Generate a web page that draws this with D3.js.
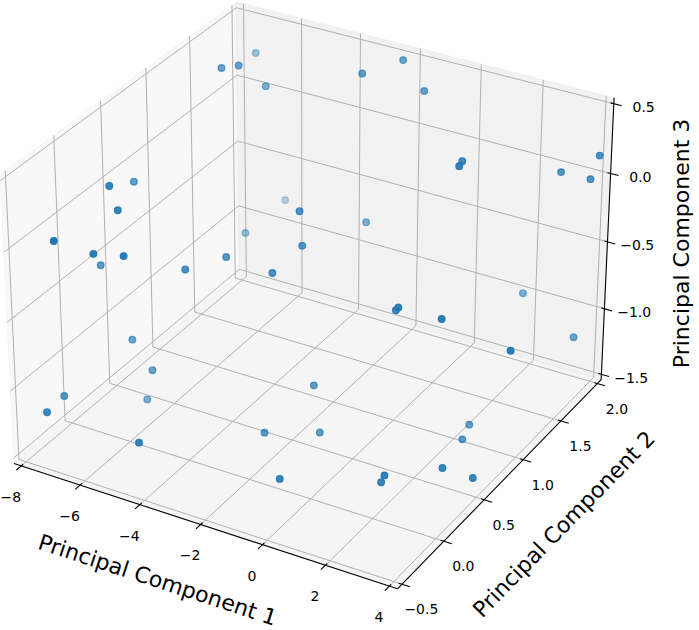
<!DOCTYPE html>
<html><head><meta charset="utf-8">
<script src="https://cdn.jsdelivr.net/npm/d3@7"></script>
<style>
body{margin:0;background:#fff}
svg{display:block}
text{font-family:"DejaVu Sans",sans-serif;fill:#000}
</style>
</head><body>
<svg id="chart" width="699" height="630"></svg>
<script>
// ---- data (PC1, PC2, PC3 per sample) ----
const pc1 = [-6.61,-6.26,-7.41,-6.04,-2.91,-2.30,-1.41,-7.25,-7.83,-6.86,0.95,1.13,-6.07,-2.97,4.00,2.98,3.83,-7.63,-6.90,-6.14,-7.95,-5.38,-4.74,-7.03,-6.30,-7.98,-7.47,-6.60,-6.15,-2.94,-3.20,-2.50,0.67,0.46,2.03,-1.86,2.01,4.00,3.93,-4.70,-2.67,-1.33,-1.09,1.65,1.44,2.88,2.40,2.17,3.58];
const pc2 = [1.31,1.39,1.99,1.63,1.67,1.95,1.88,0.25,0.70,0.21,1.45,1.34,1.87,0.94,2.00,1.92,1.96,-0.23,-0.05,0.03,0.35,0.45,0.70,0.38,0.36,-0.08,-0.42,0.39,1.41,0.96,0.70,1.58,0.79,0.84,0.80,0.71,1.87,1.74,0.92,-0.32,0.41,0.59,0.03,0.27,0.31,0.51,0.95,1.13,0.62];
const pc3 = [0.49,0.49,0.24,0.24,0.49,0.49,0.35,0.12,-0.11,-0.01,0.19,0.22,-0.73,-0.15,0.14,0.00,-0.02,-0.05,-0.19,-0.20,-0.55,-0.47,-0.47,-1.06,-1.23,-1.29,-1.18,-1.49,-0.75,-0.41,-0.49,-0.53,-0.54,-0.60,-0.54,-1.24,-0.93,-1.06,-0.71,-1.27,-1.48,-1.49,-1.49,-1.41,-1.50,-1.41,-1.49,-1.50,-1.50];

const xTicks = [-8,-6,-4,-2,0,2,4];
const yTicks = [-0.5,0.0,0.5,1.0,1.5,2.0];
const zTicks = [-1.5,-1.0,-0.5,0.0,0.5];
const xLim = [-8,4], yLim = [-0.5,2.0], zLim = [-1.5,0.5];
const axisTitles = ["Principal Component 1","Principal Component 2","Principal Component 3"];

// ---- 3D view (matplotlib-like: elev 30, azim -60, box aspect 4:4:3) ----
const svg = d3.select("#chart");
const elev = 30*Math.PI/180, azim = -60*Math.PI/180, dist = 10;
const asp = [4,4,3];
const an = Math.hypot(...asp);
const A = asp.map(a => a*1.8294640721620434/an);
const sx3 = d3.scaleLinear().domain(xLim).range([-A[0]/2, A[0]/2]);
const sy3 = d3.scaleLinear().domain(yLim).range([-A[1]/2, A[1]/2]);
const sz3 = d3.scaleLinear().domain(zLim).range([-A[2]/2, A[2]/2]);
const w = [Math.cos(elev)*Math.cos(azim), Math.cos(elev)*Math.sin(azim), Math.sin(elev)];
let u = [-w[1], w[0], 0]; const un = Math.hypot(...u); u = u.map(c=>c/un);
const v = [w[1]*u[2]-w[2]*u[1], w[2]*u[0]-w[0]*u[2], w[0]*u[1]-w[1]*u[0]];
const dot = (a,b) => a[0]*b[0]+a[1]*b[1]+a[2]*b[2];
const cx = 313, cy = 281.3, half = 369;
const px = d3.scaleLinear().domain([-0.1,0.1]).range([cx-half, cx+half]);
const py = d3.scaleLinear().domain([-0.1,0.1]).range([cy+half, cy-half]);
function proj(x,y,z){
  const p = [sx3(x), sy3(y), sz3(z)];
  const d = dot(w,p), k = dist - d;
  return {x: px(dot(u,p)/k), y: py(dot(v,p)/k), d};
}
const padOf = l => (l[1]-l[0])/48;
const xs0 = xLim[0]-padOf(xLim), xs1 = xLim[1]+padOf(xLim);
const ys0 = yLim[0]-padOf(yLim), ys1 = yLim[1]+padOf(yLim);
const zs0 = zLim[0]-padOf(zLim), zs1 = zLim[1]+padOf(zLim);
const line = d3.line().x(p=>p.x).y(p=>p.y);
const P = pts => pts.map(q => proj(...q));

// ---- panes ----
const panes = [
  {pts:[[xs0,ys0,zs0],[xs0,ys1,zs0],[xs0,ys1,zs1],[xs0,ys0,zs1]], c:"rgba(242,242,242,0.5)"},
  {pts:[[xs0,ys1,zs0],[xs1,ys1,zs0],[xs1,ys1,zs1],[xs0,ys1,zs1]], c:"rgba(230,230,230,0.5)"},
  {pts:[[xs0,ys0,zs0],[xs1,ys0,zs0],[xs1,ys1,zs0],[xs0,ys1,zs0]], c:"rgba(236,236,236,0.5)"}
];
svg.append("g").selectAll("path").data(panes).join("path")
  .attr("d", p => line(P(p.pts)) + "Z")
  .attr("fill", p => p.c).attr("stroke", p => p.c).attr("stroke-width", 1);

// ---- grid ----
const grid = svg.append("g").attr("fill","none").attr("stroke","#b0b0b0").attr("stroke-width",1);
xTicks.forEach(t => grid.append("path").attr("d", line(P([[t,ys0,zs0],[t,ys1,zs0],[t,ys1,zs1]]))));
yTicks.forEach(t => grid.append("path").attr("d", line(P([[xs1,t,zs0],[xs0,t,zs0],[xs0,t,zs1]]))));
zTicks.forEach(t => grid.append("path").attr("d", line(P([[xs0,ys0,t],[xs0,ys1,t],[xs1,ys1,t]]))));

// ---- axis lines ----
const ax = svg.append("g").attr("fill","none").attr("stroke","#000").attr("stroke-width",1.1);
const xAxisPts = P([[xs0,ys0,zs0],[xs1,ys0,zs0]]);
const yAxisPts = P([[xs1,ys0,zs0],[xs1,ys1,zs0]]);
const zAxisPts = P([[xs1,ys1,zs0],[xs1,ys1,zs1]]);
[xAxisPts,yAxisPts,zAxisPts].forEach(a => ax.append("path").attr("d", line(a)));

// ---- ticks & tick labels ----
const dX = (xLim[1]-xLim[0])/12, dY = (yLim[1]-yLim[0])/12;
const out = 0.25, inn = 0.1;
const fx = d3.format("d"), f1 = d3.format(".1f");
const tl = svg.append("g").attr("font-size", 14).attr("text-anchor","middle").attr("dominant-baseline","central");
xTicks.forEach(t => {
  ax.append("path").attr("d", line(P([[t,ys0-out*dY,zs0],[t,ys0+inn*dY,zs0]])));
  const p = proj(t,ys0,zs0);
  tl.append("text").attr("x", p.x-10.5).attr("y", p.y+31).text(fx(t));
});
yTicks.forEach(t => {
  ax.append("path").attr("d", line(P([[xs1+out*dX,t,zs0],[xs1-inn*dX,t,zs0]])));
  const p = proj(xs1,t,zs0);
  tl.append("text").attr("x", p.x+19.5).attr("y", p.y+25.2).text(f1(t));
});
zTicks.forEach(t => {
  ax.append("path").attr("d", line(P([[xs1+out*dX,ys1,t],[xs1-inn*dX,ys1,t]])));
  const p = proj(xs1,ys1,t);
  tl.append("text").attr("x", p.x+29.8).attr("y", p.y+3.3).text(f1(t));
});

// ---- axis titles ----
const ang = a => Math.atan2(a[1].y-a[0].y, a[1].x-a[0].x)*180/Math.PI;
const mid = (xLim[0]+xLim[1])/2, ymid = (yLim[0]+yLim[1])/2, zmid = (zLim[0]+zLim[1])/2;
const tg = svg.append("g").attr("font-size", 22).attr("text-anchor","middle").attr("dominant-baseline","central");
{
  const m = proj(mid, ys0, zs0);
  tg.append("text").attr("transform", `translate(${m.x-43},${m.y+55.5}) rotate(${ang(xAxisPts)})`).text(axisTitles[0]);
  const n = proj(xs1, ymid, zs0);
  tg.append("text").attr("transform", `translate(${n.x+60},${n.y+44.5}) rotate(${ang(yAxisPts)})`).text(axisTitles[1]);
  const o = proj(xs1, ys1, zmid);
  tg.append("text").attr("transform", `translate(${o.x+74},${o.y+1.6}) rotate(-90)`).text(axisTitles[2]);
}

// ---- scatter with depth shading ----
const pts = pc1.map((x,i) => proj(x, pc2[i], pc3[i]));
const dExt = d3.extent(pts, p => p.d);
const far = d3.scaleLinear().domain([dExt[1], dExt[0]]).range([0,1]);
pts.forEach(p => p.a = 1 - 0.7*far(p.d));
const order = pts.slice().sort((a,b) => a.d - b.d);
svg.append("g").selectAll("circle").data(order).join("circle")
  .attr("cx", p => p.x).attr("cy", p => p.y).attr("r", 3.3)
  .attr("fill", "#1f77b4").attr("fill-opacity", p => p.a)
  .attr("stroke", "#1f77b4").attr("stroke-opacity", p => p.a).attr("stroke-width", 1.3);
</script>
</body></html>
